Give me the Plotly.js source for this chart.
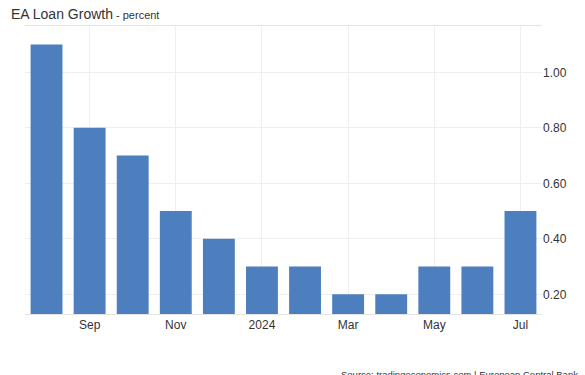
<!DOCTYPE html>
<html>
<head>
<meta charset="utf-8">
<script src="https://cdn.plot.ly/plotly-3.0.1.min.js"></script>
<style>
html,body{margin:0;padding:0;background:#fff;}
#chart{width:585px;height:375px;}
</style>
</head>
<body>
<div id="chart"></div>
<script>
var months = ["2023-08","2023-09","2023-10","2023-11","2023-12","2024-01","2024-02","2024-03","2024-04","2024-05","2024-06","2024-07"];
var loanGrowth = [1.1, 0.8, 0.7, 0.5, 0.4, 0.3, 0.3, 0.2, 0.2, 0.3, 0.3, 0.5];
var xTickVals = ["2023-09","2023-11","2024-01","2024-03","2024-05","2024-07"];
var xTickText = ["Sep","Nov","2024","Mar","May","Jul"];
var yTickVals = [0.2, 0.4, 0.6, 0.8, 1.0];
var yTickText = ["0.20","0.40","0.60","0.80","1.00"];

var trace = {
  type: "bar",
  x: months,
  y: loanGrowth,
  marker: {color: "#4d7fbf", line: {width: 0}},
  width: 0.74,
  hoverinfo: "x+y"
};

var layout = {
  width: 585,
  height: 375,
  margin: {l: 25, r: 43, t: 26, b: 61},
  paper_bgcolor: "#ffffff",
  plot_bgcolor: "#ffffff",
  showlegend: false,
  font: {family: "Arial, Liberation Sans, sans-serif", color: "#333333", size: 12},
  xaxis: {
    type: "category",
    range: [-0.5, 11.5],
    tickvals: xTickVals,
    ticktext: xTickText,
    showgrid: true,
    gridcolor: "#efefef",
    gridwidth: 1,
    showline: true,
    linecolor: "#e3e3e3",
    linewidth: 1,
    mirror: true,
    ticks: "",
    tickfont: {size: 12, color: "#333333"},
    zeroline: false,
    fixedrange: true
  },
  yaxis: {
    side: "right",
    range: [0.129, 1.167],
    tickvals: yTickVals,
    ticktext: yTickText,
    showgrid: true,
    gridcolor: "#efefef",
    gridwidth: 1,
    showline: false,
    ticks: "",
    tickfont: {size: 12, color: "#333333"},
    zeroline: false,
    fixedrange: true
  },
  annotations: [
    {
      xref: "paper", yref: "paper", x: 0, y: 1, xanchor: "left", yanchor: "bottom",
      text: "<span style='font-size:14px'>EA Loan Growth</span><span style='font-size:11px'> - percent</span>",
      showarrow: false, xshift: -16, yshift: 2,
      font: {family: "Arial, Liberation Sans, sans-serif", color: "#333333", size: 14}
    },
    {
      xref: "paper", yref: "paper", x: 1, y: 0, xanchor: "right", yanchor: "top",
      text: "Source: tradingeconomics.com | European Central Bank",
      showarrow: false, xshift: 38, yshift: -53,
      font: {family: "Arial, Liberation Sans, sans-serif", color: "#333333", size: 9.5}
    }
  ]
};

Plotly.newPlot("chart", [trace], layout, {displayModeBar: false, staticPlot: true});
</script>
</body>
</html>
